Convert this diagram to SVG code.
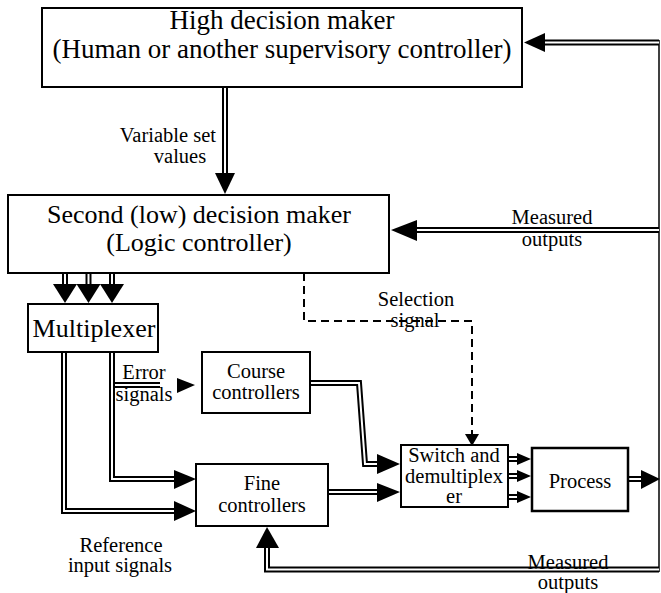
<svg xmlns="http://www.w3.org/2000/svg" width="661" height="593" viewBox="0 0 661 593">
<style>
.box{fill:#fff;stroke:#000;stroke-width:2}
text{font-family:"Liberation Serif","Times New Roman",Tinos,"DejaVu Serif",serif;fill:#000;text-anchor:middle}
.big{font-size:27px}
.mid{font-size:26px}
.sm{font-size:20.5px}
.dblo{fill:none;stroke:#000;stroke-width:6;stroke-linejoin:miter}
.dbli{fill:none;stroke:#fff;stroke-width:2;stroke-linejoin:miter}
.ah{fill:#000}
.dash{fill:none;stroke:#000;stroke-width:2;stroke-dasharray:8,5}
</style>
<defs>
  <g id="dbl-lines">
    <path d="M659,42.5 H545"/>
    <path d="M225,87 V174"/>
    <path d="M659,230 H417"/>
    <path d="M65,273 V285"/>
    <path d="M88.5,273 V285"/>
    <path d="M112,273 V285"/>
    <path d="M64,352 V511 H174"/>
    <path d="M112,352 V479 H174"/>
    <path d="M115,385 H160"/>
    <path d="M310,383 H359 L365,464 H377"/>
    <path d="M328,492 H377"/>
    <path d="M508,459 H518"/>
    <path d="M508,476 H518"/>
    <path d="M508,497 H518"/>
    <path d="M628,479 H641"/>
    <path d="M659,569.5 H267 V548"/>
  </g>
</defs>
<rect width="661" height="593" fill="#fff"/>
<g id="connectors">
  <line x1="659" y1="40" x2="659" y2="572" stroke="#000" stroke-width="1.5"/>
  <use href="#dbl-lines" class="dblo"/>
  <use href="#dbl-lines" class="dbli"/>
  <path class="dash" d="M304,273 V321 H472 V436"/>
  <g class="ah">
    <polygon points="524,42.5 545,33 545,52"/>
    <polygon points="225,194 215,173 235,173"/>
    <polygon points="391,230 417,220 417,241"/>
    <polygon points="65,303 53,284 77,284"/>
    <polygon points="88.5,303 76.5,284 100.5,284"/>
    <polygon points="112,303 100,284 124,284"/>
    <polygon points="196,511 174,501 174,521"/>
    <polygon points="196,479 174,470 174,489"/>
    <polygon points="195,385 177,378 177,393"/>
    <polygon points="400,464 377,454 377,474"/>
    <polygon points="400,492 377,483 377,502"/>
    <polygon points="531,459 517,453 517,465"/>
    <polygon points="531,476 517,470 517,482"/>
    <polygon points="531,497 517,491 517,503"/>
    <polygon points="660,479 641,470 641,489"/>
    <polygon points="267,527 256,548 279,548"/>
    <polygon points="472,446 465,434 479,434"/>
  </g>
</g>
<g id="high">
  <rect class="box" x="42" y="8" width="480" height="79"/>
  <text class="big" x="282" y="29">High decision maker</text>
  <text class="big" x="282" y="58">(Human or another supervisory controller)</text>
</g>
<g id="low">
  <rect class="box" x="8" y="195" width="381" height="78"/>
  <text class="mid" x="199" y="223">Second (low) decision maker</text>
  <text class="mid" x="199" y="251">(Logic controller)</text>
</g>
<g id="mux">
  <rect class="box" x="28" y="304" width="130" height="48"/>
  <text class="mid" x="94" y="337">Multiplexer</text>
</g>
<g id="course">
  <rect class="box" x="202" y="352" width="108" height="61"/>
  <text class="sm" x="256" y="378">Course</text>
  <text class="sm" x="256" y="399">controllers</text>
</g>
<g id="fine">
  <rect class="box" x="196" y="464" width="132" height="62"/>
  <text class="sm" x="262" y="490">Fine</text>
  <text class="sm" x="262" y="512">controllers</text>
</g>
<g id="switch">
  <rect class="box" x="401" y="445" width="107" height="62"/>
  <text class="sm" x="454" y="462">Switch and</text>
  <text class="sm" x="454" y="483">demultiplex</text>
  <text class="sm" x="454" y="503">er</text>
</g>
<g id="process">
  <rect class="box" x="532" y="448" width="96" height="63" style="stroke-width:2.5"/>
  <text class="sm" x="580" y="488">Process</text>
</g>
<g id="labels">
  <text class="sm" x="216" y="142" style="text-anchor:end">Variable set</text>
  <text class="sm" x="180" y="163">values</text>
  <text class="sm" x="552" y="224">Measured</text>
  <text class="sm" x="552" y="246">outputs</text>
  <text class="sm" x="416" y="306">Selection</text>
  <text class="sm" x="415" y="327">signal</text>
  <text class="sm" x="144" y="379">Error</text>
  <text class="sm" x="144" y="401">signals</text>
  <text class="sm" x="121" y="552">Reference</text>
  <text class="sm" x="120" y="572">input signals</text>
  <text class="sm" x="568" y="569">Measured</text>
  <text class="sm" x="568" y="589">outputs</text>
</g>
</svg>
